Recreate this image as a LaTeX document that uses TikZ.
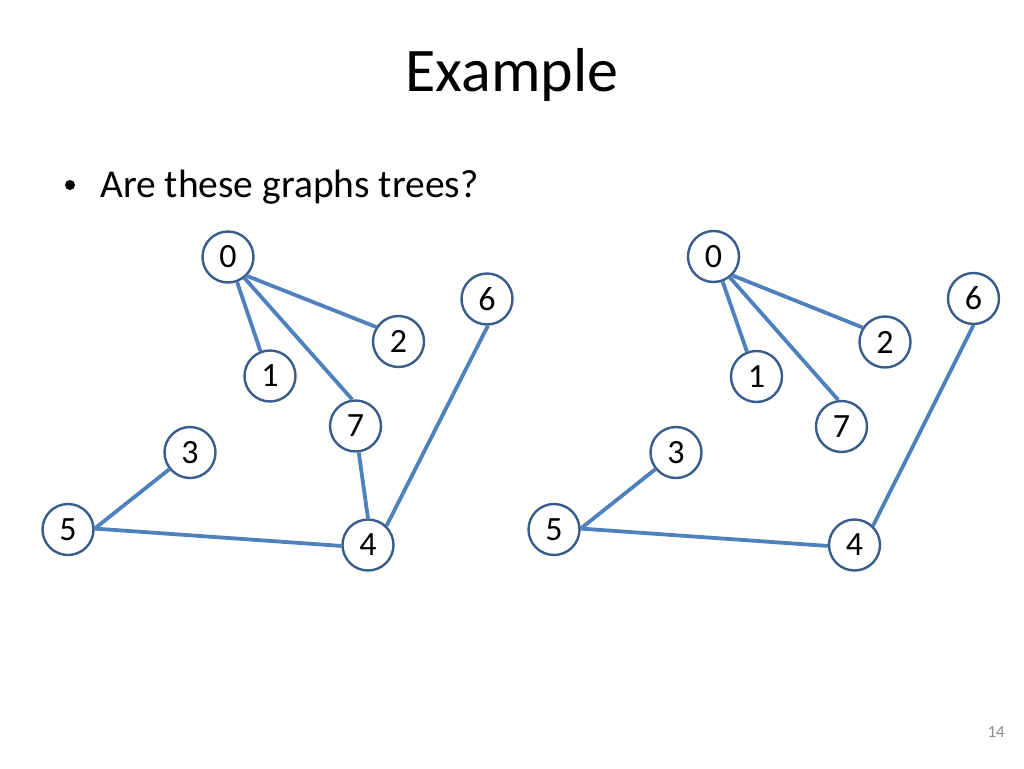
\documentclass[tikz,border=0pt]{standalone}
\usepackage{fontspec}
\setmainfont{Carlito}
\definecolor{edgeblue}{HTML}{4F81BD}
\definecolor{ringblue}{HTML}{385D8A}
\definecolor{pagegrey}{HTML}{8C8C8C}
\begin{document}
\begin{tikzpicture}[x=1pt,y=-1pt,
  vtx/.style={circle,draw=ringblue,line width=2.4pt,fill=white,minimum size=51pt,inner sep=0pt,font=\fontsize{34}{36}\selectfont},
  edge/.style={draw=edgeblue,line width=3.8pt},
  title/.style={anchor=base,font=\fontsize{62}{70}\selectfont},
  body/.style={anchor=base west,inner sep=0pt,font=\fontsize{39.5}{44}\selectfont},
  bulletdot/.style={circle,fill=black,inner sep=0pt,minimum size=10pt},
  pagenum/.style={anchor=base east,inner sep=0pt,text=pagegrey,font=\fontsize{17}{20}\selectfont}]
\useasboundingbox[fill=white] (0,0) rectangle (1024,768);
\node[title] (t) at (512,91) {Example};
\node[bulletdot] (bul) at (70,185) {};
\node[body] (q) at (100,197) {Are these graphs trees?};
\node[pagenum] (pg) at (1005,737) {14};
% left graph
\begin{scope}
\node[vtx] (a0) at (228,257) {0};
\node[vtx] (a1) at (270,376) {1};
\node[vtx] (a2) at (398.5,341.5) {2};
\node[vtx] (a3) at (190,452.5) {3};
\node[vtx] (a4) at (368,545) {4};
\node[vtx] (a5) at (68,529.5) {5};
\node[vtx] (a6) at (487,299) {6};
\node[vtx] (a7) at (355.5,426) {7};
\draw[edge] (a0.-70) -- (a1.111);
\draw[edge] (a0.-52) -- (a7.97);
\draw[edge] (a0.-45) -- (a2.147);
\draw[edge] (a7.-83) -- (a4.90);
\draw[edge] (a6.-88) -- (a4.46);
\draw[edge] (a5.2) -- (a3.219);
\draw[edge] (a5.2) -- (a4.182);
\end{scope}
% right graph
\begin{scope}
\node[vtx] (b0) at (713.5,256.5) {0};
\node[vtx] (b1) at (756.5,376.5) {1};
\node[vtx] (b2) at (885,342) {2};
\node[vtx] (b3) at (676,452.5) {3};
\node[vtx] (b4) at (854.5,545) {4};
\node[vtx] (b5) at (554,529.5) {5};
\node[vtx] (b6) at (973.5,298.5) {6};
\node[vtx] (b7) at (841.5,426.5) {7};
\draw[edge] (b0.-70) -- (b1.111);
\draw[edge] (b0.-52) -- (b7.97);
\draw[edge] (b0.-45) -- (b2.147);
\draw[edge] (b6.-90) -- (b4.46);
\draw[edge] (b5.2) -- (b3.219);
\draw[edge] (b5.2) -- (b4.182);
\end{scope}
\end{tikzpicture}
\end{document}
